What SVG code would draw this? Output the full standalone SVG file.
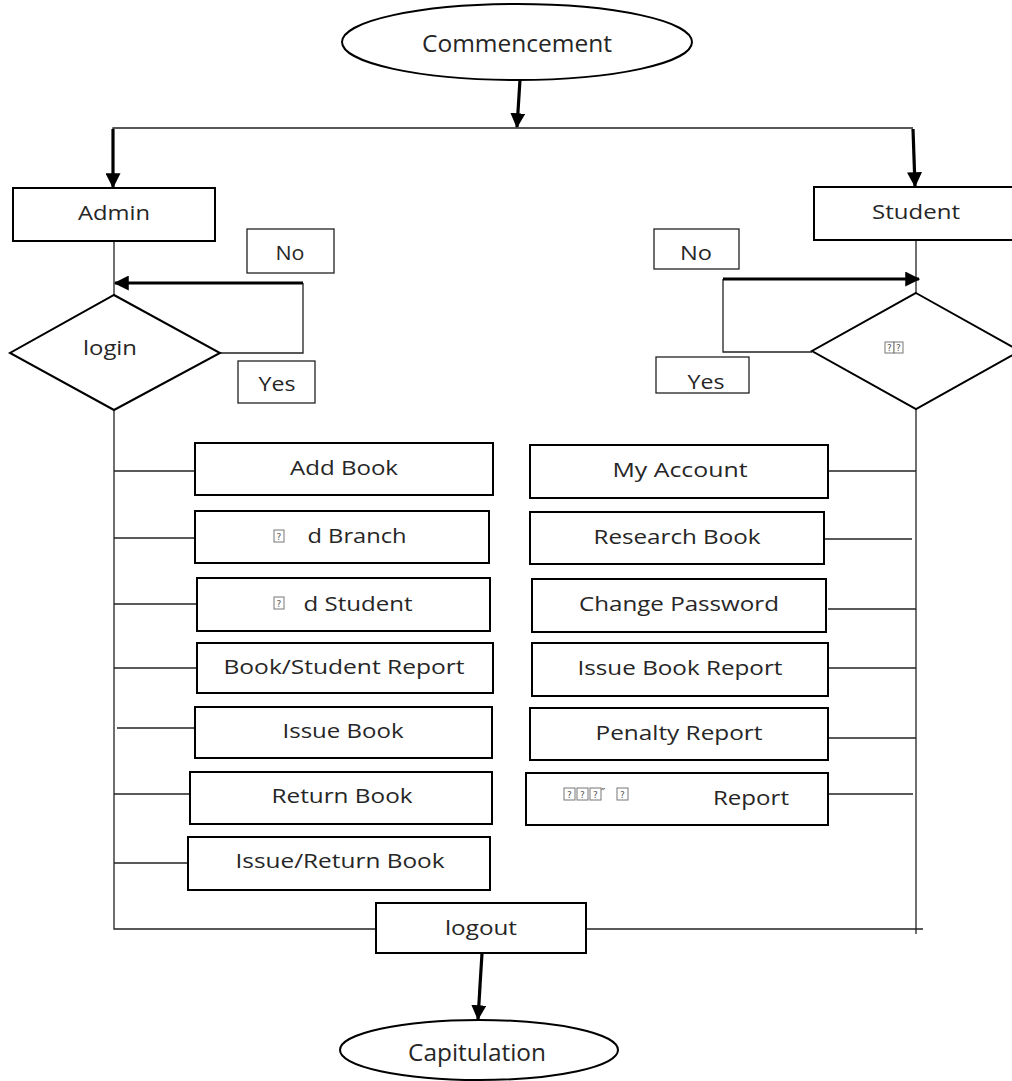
<svg xmlns="http://www.w3.org/2000/svg" width="1012" height="1081" viewBox="0 0 1012 1081">
  <style>
    .box { fill: #fff; stroke: #000; stroke-width: 2; }
    .term { fill: #fff; stroke: #000; stroke-width: 2; }
    .tag { fill: #fff; stroke: #222; stroke-width: 1.3; }
    .lbl { font-family: "Open Sans", "DejaVu Sans", sans-serif; font-size: 20px; fill: #262626; text-anchor: middle; }
    .big { font-size: 23px; }
    .tf rect { fill: #fff; stroke: #777; stroke-width: 1; }
    .tf text { font-family: "DejaVu Sans", sans-serif; font-size: 9px; fill: #555; text-anchor: middle; }
    .mark { font-family: "DejaVu Sans", sans-serif; font-size: 12px; fill: #555; }
    .thin { fill: none; stroke: #222; stroke-width: 1.3; }
    .thick { fill: none; stroke: #000; stroke-width: 3.2; }
  </style>
  <defs>
    <marker id="head" viewBox="0 0 12 12" refX="11" refY="6" markerWidth="15" markerHeight="15" markerUnits="userSpaceOnUse" orient="auto">
      <path d="M0,0 L12,6 L0,12 Z" fill="#000"/>
    </marker>
    <clipPath id="yesClip"><rect x="656" y="357" width="93" height="35"/></clipPath>
  </defs>
  <rect width="1012" height="1081" fill="#fff"/>

  <!-- connectors -->
  <g id="connectors">
    <!-- start split -->
    <line class="thick" x1="520" y1="80" x2="517" y2="127" marker-end="url(#head)"/>
    <polyline class="thin" points="113,188 113,128 913,128"/>
    <line class="thick" x1="113" y1="129" x2="113" y2="187" marker-end="url(#head)"/>
    <line class="thick" x1="913" y1="129" x2="915" y2="186" marker-end="url(#head)"/>

    <!-- admin side -->
    <line class="thin" x1="114" y1="241" x2="114" y2="295"/>
    <polyline class="thin" points="220,353 303,353 303,283"/>
    <line class="thick" x1="303" y1="283" x2="115" y2="283" marker-end="url(#head)"/>
    <polyline class="thin" points="114,410 114,929 376,929"/>
    <line class="thin" x1="114" y1="471" x2="195" y2="471"/>
    <line class="thin" x1="114" y1="538" x2="195" y2="538"/>
    <line class="thin" x1="114" y1="604" x2="197" y2="604"/>
    <line class="thin" x1="114" y1="668" x2="197" y2="668"/>
    <line class="thin" x1="117" y1="728" x2="195" y2="728"/>
    <line class="thin" x1="114" y1="794" x2="190" y2="794"/>
    <line class="thin" x1="114" y1="863" x2="188" y2="863"/>

    <!-- student side -->
    <line class="thin" x1="916" y1="240" x2="916" y2="293"/>
    <polyline class="thin" points="812,352 723,352 723,279"/>
    <line class="thick" x1="723" y1="279" x2="919" y2="279" marker-end="url(#head)"/>
    <polyline class="thin" points="916,409 916,934"/>
    <line class="thin" x1="586" y1="929" x2="923" y2="929"/>
    <line class="thin" x1="828" y1="471" x2="916" y2="471"/>
    <line class="thin" x1="824" y1="539" x2="912" y2="539"/>
    <line class="thin" x1="828" y1="609" x2="916" y2="609"/>
    <line class="thin" x1="828" y1="668" x2="916" y2="668"/>
    <line class="thin" x1="828" y1="738" x2="916" y2="738"/>
    <line class="thin" x1="825" y1="794" x2="913" y2="794"/>

    <!-- exit -->
    <line class="thick" x1="482" y1="953" x2="478" y2="1019" marker-end="url(#head)"/>
  </g>

  <!-- terminals -->
  <g id="commencement">
    <ellipse class="term" cx="517" cy="42" rx="175" ry="38"/>
    <text class="lbl big" x="517" y="52" textLength="190" lengthAdjust="spacingAndGlyphs">Commencement</text>
  </g>
  <g id="capitulation">
    <ellipse class="term" cx="479" cy="1050" rx="139" ry="30"/>
    <text class="lbl big" x="477" y="1061" textLength="138" lengthAdjust="spacingAndGlyphs">Capitulation</text>
  </g>

  <!-- roles -->
  <g id="admin">
    <rect class="box" x="13" y="188" width="202" height="53"/>
    <text class="lbl" x="114" y="220" textLength="72" lengthAdjust="spacingAndGlyphs">Admin</text>
  </g>
  <g id="student">
    <rect class="box" x="814" y="187" width="210" height="53"/>
    <text class="lbl" x="916" y="219" textLength="88" lengthAdjust="spacingAndGlyphs">Student</text>
  </g>

  <!-- decisions -->
  <g id="admin-login">
    <polygon class="box" points="114,295 220,353 114,410 10,353"/>
    <text class="lbl" x="110" y="355" textLength="54" lengthAdjust="spacingAndGlyphs">login</text>
  </g>
  <g id="student-login">
    <polygon class="box" points="916,293 1020,351 916,409 812,351"/>
    <g class="tf"><rect x="885" y="342" width="9" height="11"/><text x="889.5" y="351">?</text></g>
    <g class="tf"><rect x="894" y="342" width="9" height="11"/><text x="898.5" y="351">?</text></g>
  </g>

  <!-- branch tags -->
  <g id="admin-no">
    <rect class="tag" x="247" y="229" width="87" height="44"/>
    <text class="lbl" x="290" y="260" textLength="29" lengthAdjust="spacingAndGlyphs">No</text>
  </g>
  <g id="admin-yes">
    <rect class="tag" x="238" y="361" width="77" height="42"/>
    <text class="lbl" x="277" y="391" textLength="37" lengthAdjust="spacingAndGlyphs">Yes</text>
  </g>
  <g id="student-no">
    <rect class="tag" x="654" y="229" width="85" height="40"/>
    <text class="lbl" x="696" y="260" textLength="32" lengthAdjust="spacingAndGlyphs">No</text>
  </g>
  <g id="student-yes">
    <rect class="tag" x="656" y="357" width="93" height="36"/>
    <text class="lbl" x="706" y="389" textLength="37" lengthAdjust="spacingAndGlyphs" clip-path="url(#yesClip)">Yes</text>
  </g>

  <!-- admin actions -->
  <g id="add-book">
    <rect class="box" x="195" y="443" width="298" height="52"/>
    <text class="lbl" x="344" y="475" textLength="108" lengthAdjust="spacingAndGlyphs">Add Book</text>
  </g>
  <g id="add-branch">
    <rect class="box" x="195" y="511" width="294" height="52"/>
    <g class="tf"><rect x="274" y="530" width="10" height="12"/><text x="279" y="540">?</text></g>
    <text class="lbl" x="357" y="543" textLength="99" lengthAdjust="spacingAndGlyphs">d Branch</text>
  </g>
  <g id="add-student">
    <rect class="box" x="197" y="578" width="293" height="53"/>
    <g class="tf"><rect x="274" y="597" width="10" height="12"/><text x="279" y="607">?</text></g>
    <text class="lbl" x="358" y="611" textLength="109" lengthAdjust="spacingAndGlyphs">d Student</text>
  </g>
  <g id="book-student-report">
    <rect class="box" x="197" y="643" width="296" height="50"/>
    <text class="lbl" x="344" y="674" textLength="241" lengthAdjust="spacingAndGlyphs">Book/Student Report</text>
  </g>
  <g id="issue-book">
    <rect class="box" x="195" y="707" width="297" height="51"/>
    <text class="lbl" x="343" y="738" textLength="121" lengthAdjust="spacingAndGlyphs">Issue Book</text>
  </g>
  <g id="return-book">
    <rect class="box" x="190" y="772" width="302" height="52"/>
    <text class="lbl" x="342" y="803" textLength="141" lengthAdjust="spacingAndGlyphs">Return Book</text>
  </g>
  <g id="issue-return-book">
    <rect class="box" x="188" y="837" width="302" height="53"/>
    <text class="lbl" x="340" y="868" textLength="209" lengthAdjust="spacingAndGlyphs">Issue/Return Book</text>
  </g>

  <!-- student actions -->
  <g id="my-account">
    <rect class="box" x="530" y="445" width="298" height="53"/>
    <text class="lbl" x="680" y="477" textLength="135" lengthAdjust="spacingAndGlyphs">My Account</text>
  </g>
  <g id="research-book">
    <rect class="box" x="530" y="512" width="294" height="52"/>
    <text class="lbl" x="677" y="544" textLength="167" lengthAdjust="spacingAndGlyphs">Research Book</text>
  </g>
  <g id="change-password">
    <rect class="box" x="532" y="579" width="294" height="53"/>
    <text class="lbl" x="679" y="611" textLength="200" lengthAdjust="spacingAndGlyphs">Change Password</text>
  </g>
  <g id="issue-book-report">
    <rect class="box" x="532" y="643" width="296" height="53"/>
    <text class="lbl" x="680" y="675" textLength="205" lengthAdjust="spacingAndGlyphs">Issue Book Report</text>
  </g>
  <g id="penalty-report">
    <rect class="box" x="530" y="708" width="298" height="52"/>
    <text class="lbl" x="679" y="740" textLength="167" lengthAdjust="spacingAndGlyphs">Penalty Report</text>
  </g>
  <g id="other-report">
    <rect class="box" x="526" y="773" width="302" height="52"/>
    <g class="tf"><rect x="564" y="788" width="11" height="12"/><text x="569.5" y="798">?</text></g>
    <g class="tf"><rect x="577" y="788" width="11" height="12"/><text x="582.5" y="798">?</text></g>
    <g class="tf"><rect x="590" y="788" width="11" height="12"/><text x="595.5" y="798">?</text></g>
    <text class="mark" x="601" y="797">″</text>
    <g class="tf"><rect x="617" y="788" width="11" height="12"/><text x="622.5" y="798">?</text></g>
    <text class="lbl" x="751" y="805" textLength="76" lengthAdjust="spacingAndGlyphs">Report</text>
  </g>

  <!-- exit -->
  <g id="logout">
    <rect class="box" x="376" y="903" width="210" height="50"/>
    <text class="lbl" x="481" y="935" textLength="72" lengthAdjust="spacingAndGlyphs">logout</text>
  </g>
</svg>
